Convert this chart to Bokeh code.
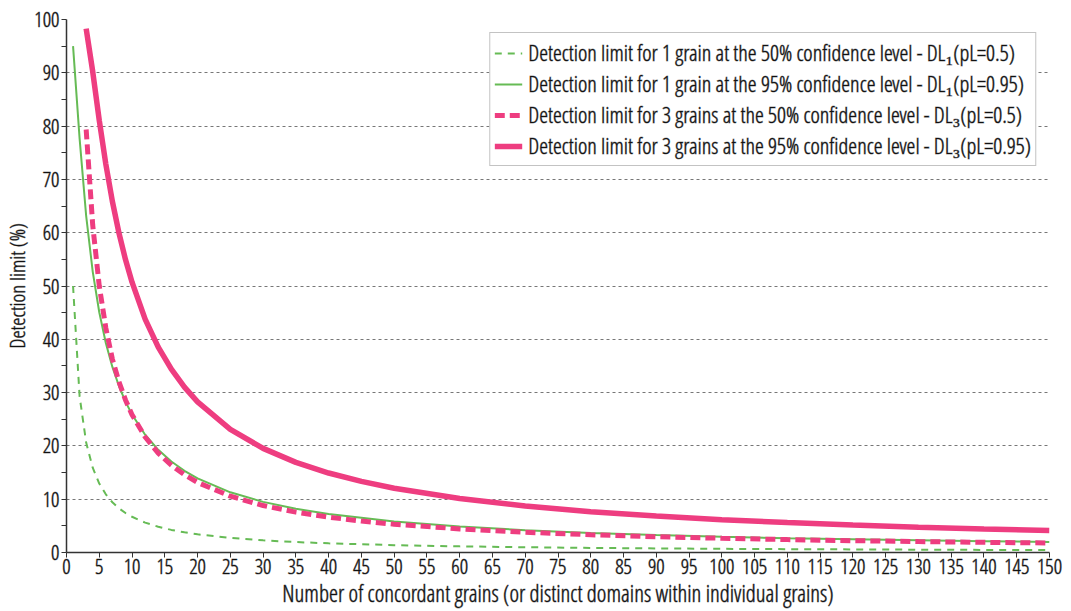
from bokeh.plotting import figure
from bokeh.models import Legend, LegendItem, FixedTicker, Range1d
from bokeh.embed import file_html
from bokeh.resources import INLINE

# grain counts
n1 = [1, 2, 3, 4, 5, 6, 7, 8, 9, 10, 12, 14, 16, 18, 20, 25, 30, 35, 40, 50,
      60, 70, 80, 90, 100, 110, 120, 130, 140, 150]
dl1_50 = [50.0, 29.29, 20.63, 15.91, 12.94, 10.91, 9.43, 8.30, 7.41, 6.70, 5.61,
          4.83, 4.24, 3.78, 3.41, 2.73, 2.28, 1.96, 1.72, 1.38, 1.15, 0.99, 0.86,
          0.77, 0.69, 0.63, 0.58, 0.53, 0.49, 0.46]
dl1_95 = [95.0, 77.64, 63.16, 52.71, 45.07, 39.30, 34.82, 31.23, 28.31, 25.89,
          22.09, 19.26, 17.07, 15.33, 13.91, 11.29, 9.50, 8.20, 7.22, 5.81, 4.87,
          4.19, 3.68, 3.27, 2.95, 2.69, 2.47, 2.28, 2.12, 1.98]

n3 = [3, 4, 5, 6, 7, 8, 9, 10, 12, 14, 16, 18, 20, 25, 30, 35, 40, 45, 50, 60,
      70, 80, 90, 100, 110, 120, 130, 140, 150]
dl3_50 = [79.37, 61.43, 50.00, 42.14, 36.29, 32.05, 28.62, 25.86, 21.67, 18.65,
          16.37, 14.58, 13.15, 10.56, 8.81, 7.57, 6.63, 5.90, 5.31, 4.43, 3.80,
          3.33, 2.96, 2.67, 2.42, 2.22, 2.05, 1.91, 1.78]
dl3_95 = [98.30, 90.24, 81.07, 72.87, 65.88, 59.97, 54.96, 50.72, 43.79, 38.54,
          34.39, 31.04, 28.27, 23.11, 19.54, 16.91, 14.91, 13.34, 12.06, 10.12,
          8.72, 7.66, 6.83, 6.16, 5.61, 5.15, 4.76, 4.43, 4.14]

labels = [
    "Detection limit for 1 grain at the 50% confidence level - DL\u2081(pL=0.5)",
    "Detection limit for 1 grain at the 95% confidence level - DL\u2081(pL=0.95)",
    "Detection limit for 3 grains at the 50% confidence level - DL\u2083(pL=0.5)",
    "Detection limit for 3 grains at the 95% confidence level - DL\u2083(pL=0.95)",
]
x_ticks = list(range(0, 155, 5))
y_ticks = list(range(0, 110, 10))

GREEN = "#66bb55"
PINK = "#ee3d80"
FONT = "Open Sans Condensed Light"
TXT = "#111111"
OUTLINE = "rgba(17,17,17,0.45)"

p = figure(width=1071, height=611, output_backend="svg", toolbar_location=None,
           x_range=Range1d(0, 150), y_range=Range1d(0, 100),
           min_border_left=63, min_border_right=22, min_border_top=19,
           min_border_bottom=58)
p.outline_line_color = None
p.background_fill_color = "white"

r1 = p.line(n1, dl1_50, line_color=GREEN, line_width=2, line_dash="7 6")
r2 = p.line(n1, dl1_95, line_color=GREEN, line_width=2)
r3 = p.line(n3, dl3_50, line_color=PINK, line_width=5, line_dash="10 5")
r4 = p.line(n3, dl3_95, line_color=PINK, line_width=5.5)

p.xgrid.visible = False
p.ygrid.grid_line_color = "#777777"
p.ygrid.grid_line_dash = "3 3"
p.ygrid.grid_line_width = 1

p.xaxis.ticker = FixedTicker(ticks=x_ticks)
p.yaxis.ticker = FixedTicker(ticks=y_ticks, minor_ticks=list(range(5, 100, 10)))

for ax in (p.xaxis[0], p.yaxis[0]):
    ax.axis_line_color = "#333333"
    ax.axis_line_width = 1.5
    ax.major_tick_line_color = "#333333"
    ax.major_tick_in = 0
    ax.major_tick_out = 5
    ax.minor_tick_line_color = "#333333"
    ax.minor_tick_in = 0
    ax.minor_tick_out = 5
    ax.major_label_text_font = FONT
    ax.major_label_text_font_size = "21px"
    ax.major_label_text_color = TXT
    ax.axis_label_text_font = FONT
    ax.axis_label_text_font_style = "normal"
    ax.axis_label_text_color = TXT
    try:
        ax.major_label_text_outline_color = OUTLINE
        ax.axis_label_text_outline_color = OUTLINE
    except AttributeError:
        pass

p.xaxis.axis_label_text_font_size = "23px"
p.yaxis.axis_label_text_font_size = "21px"
p.xaxis.minor_tick_line_color = None
p.xaxis.axis_label = "Number of concordant grains (or distinct domains within individual grains)"
p.yaxis.axis_label = "Detection limit (%)"
p.xaxis.major_label_standoff = 1
p.yaxis.major_label_standoff = 2
p.xaxis.axis_label_standoff = 0
p.yaxis.axis_label_standoff = 0

legend = Legend(items=[LegendItem(label=labels[0], renderers=[r1]),
                       LegendItem(label=labels[1], renderers=[r2]),
                       LegendItem(label=labels[2], renderers=[r3]),
                       LegendItem(label=labels[3], renderers=[r4])],
                location="top_right")
legend.margin = 13
legend.padding = 4
legend.spacing = -8
legend.glyph_width = 28
legend.glyph_height = 20
legend.label_height = 20
legend.label_standoff = 6
legend.label_text_font = FONT
legend.label_text_font_size = "22.5px"
legend.label_text_color = TXT
try:
    legend.label_text_outline_color = OUTLINE
except AttributeError:
    pass
legend.border_line_color = "#888888"
legend.border_line_width = 1
legend.background_fill_alpha = 1
p.add_layout(legend)

open("out.html", "w").write(file_html(p, INLINE))
